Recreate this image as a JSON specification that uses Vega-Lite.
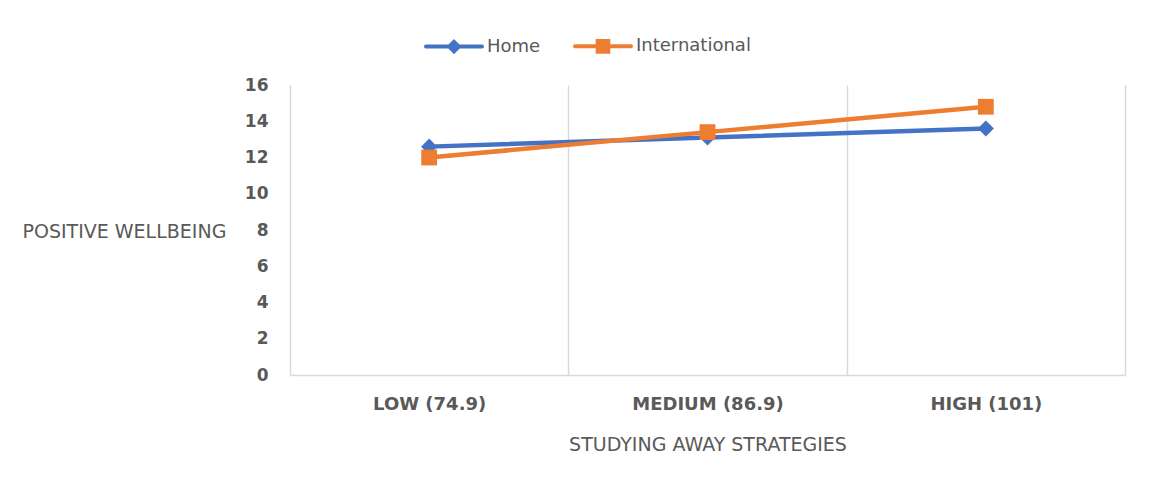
{
  "$schema": "https://vega.github.io/schema/vega-lite/v6.json",
  "width": 835,
  "height": 290,
  "autosize": {"type": "none"},
  "padding": {"left": 290, "top": 85, "right": 37, "bottom": 124},
  "background": "white",
  "config": {"view": {"stroke": null}, "font": "DejaVu Sans"},
  "data": {
    "values": [
      {"cat": "LOW (74.9)", "series": "Home", "value": 12.6},
      {"cat": "MEDIUM (86.9)", "series": "Home", "value": 13.1},
      {"cat": "HIGH (101)", "series": "Home", "value": 13.6},
      {"cat": "LOW (74.9)", "series": "International", "value": 12.0},
      {"cat": "MEDIUM (86.9)", "series": "International", "value": 13.4},
      {"cat": "HIGH (101)", "series": "International", "value": 14.8}
    ]
  },
  "encoding": {
    "x": {
      "field": "cat",
      "type": "nominal",
      "sort": ["LOW (74.9)", "MEDIUM (86.9)", "HIGH (101)"],
      "scale": {"paddingInner": 0, "paddingOuter": 0},
      "axis": {
        "title": "STUDYING AWAY STRATEGIES",
        "labelAngle": 0,
        "labelFontSize": 18,
        "labelFontWeight": "bold",
        "labelColor": "#595959",
        "labelPadding": 20,
        "ticks": false,
        "tickBand": "extent",
        "domainColor": "#d9d9d9",
        "domainWidth": 1.5,
        "grid": true,
        "gridColor": "#d9d9d9",
        "gridWidth": 1.5,
        "titleFontSize": 19,
        "titleFontWeight": "normal",
        "titleColor": "#595959",
        "titleX": 417.5,
        "titleY": 69,
        "titleAlign": "center",
        "titleBaseline": "middle"
      }
    },
    "y": {
      "field": "value",
      "type": "quantitative",
      "scale": {"domain": [0, 16], "nice": false},
      "axis": {
        "title": "POSITIVE WELLBEING",
        "values": [0, 2, 4, 6, 8, 10, 12, 14, 16],
        "labelFontSize": 17,
        "labelFontWeight": "bold",
        "labelColor": "#595959",
        "labelPadding": 22,
        "ticks": false,
        "domain": false,
        "grid": false,
        "titleAngle": 0,
        "titleAlign": "left",
        "titleBaseline": "middle",
        "titleX": -268,
        "titleY": 146,
        "titleFontSize": 19,
        "titleFontWeight": "normal",
        "titleColor": "#595959"
      }
    },
    "color": {
      "field": "series",
      "type": "nominal",
      "scale": {"domain": ["Home", "International"], "range": ["#4472c4", "#ed7d31"]},
      "legend": {
        "title": null,
        "orient": "none",
        "direction": "horizontal",
        "legendX": 134,
        "legendY": -69,
        "padding": 0,
        "symbolSize": 3136,
        "symbolStrokeWidth": 4,
        "symbolOpacity": 1,
        "symbolType": "M-1,0H1",
        "labelFontSize": 18,
        "labelColor": "#595959",
        "labelOffset": 3,
        "columnPadding": 26,
        "encode": {
          "symbols": {
            "update": {
              "shape": {"signal": "datum.value === 'Home' ? 'M-1,0H1M0,-0.17L0.17,0L0,0.17L-0.17,0Z' : 'M-1,0H1M-0.19,-0.19H0.19V0.19H-0.19Z'"},
              "size": {"value": 3136},
              "fill": {"scale": "color", "field": "value"},
              "stroke": {"scale": "color", "field": "value"},
              "strokeWidth": {"value": 4},
              "strokeCap": {"value": "round"}
            }
          }
        }
      }
    }
  },
  "layer": [
    {
      "mark": {"type": "line", "strokeWidth": 4.5, "strokeJoin": "round", "strokeCap": "round"}
    },
    {
      "transform": [{"filter": "datum.series === 'Home'"}],
      "mark": {"type": "point", "filled": true, "opacity": 1, "shape": "diamond", "size": 260}
    },
    {
      "transform": [{"filter": "datum.series === 'International'"}],
      "mark": {"type": "point", "filled": true, "opacity": 1, "shape": "square", "size": 250}
    }
  ]
}
